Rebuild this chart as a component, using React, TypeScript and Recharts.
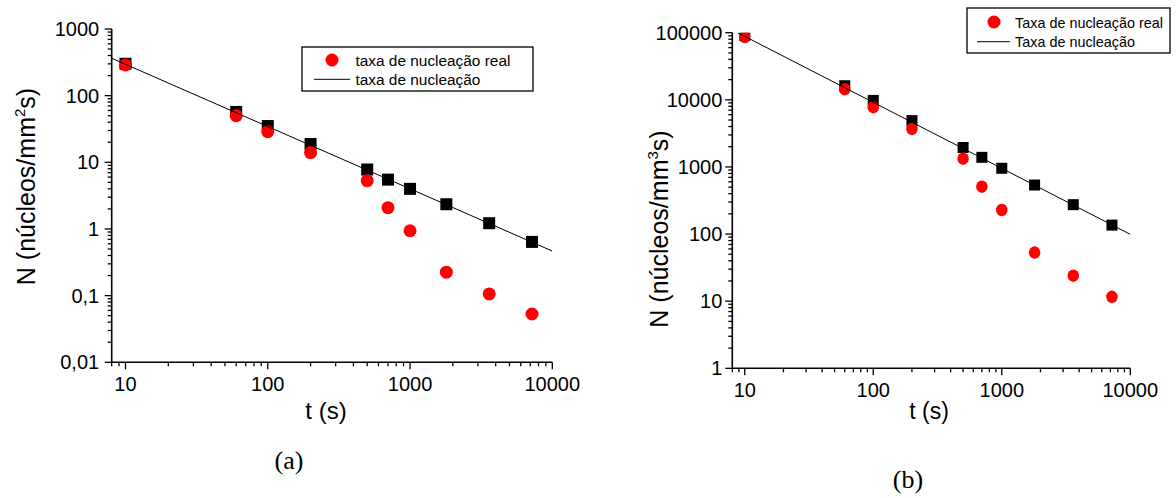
import { ScatterChart, Scatter, XAxis, YAxis } from 'recharts'

// tempos medidos (s)
const times = [10, 60, 100, 200, 500, 700, 1000, 1800, 3600, 7200]

// (a) núcleos/mm²s
const rateA = [301, 57, 35, 18.8, 7.8, 5.5, 4.0, 2.35, 1.22, 0.64]
const realA = [289, 50, 28.8, 14, 5.3, 2.09, 0.94, 0.225, 0.106, 0.053]
const fitTimesA = [8, 10000]
const fitA = [364, 0.466]

// (b) núcleos/mm³s
const rateB = [91000, 16200, 9800, 4900, 1950, 1390, 955, 538, 274, 136]
const realB = [86000, 14400, 7770, 3690, 1330, 508, 228, 53, 24, 11.6]
const fitTimesB = [8.8, 10000]
const fitB = [100000, 99]

const xMajor = [10, 100, 1000, 10000]
const xLabels = ['10', '100', '1000', '10000']
const xMinor = [8, 9, 20, 30, 40, 50, 60, 70, 80, 90, 200, 300, 400, 500, 600, 700, 800, 900,
    2000, 3000, 4000, 5000, 6000, 7000, 8000, 9000]

const yMajorA = [0.01, 0.1, 1, 10, 100, 1000]
const yLabelsA = ['0,01', '0,1', '1', '10', '100', '1000']
const yMinorA = [0.02, 0.03, 0.04, 0.05, 0.06, 0.07, 0.08, 0.09, 0.2, 0.3, 0.4, 0.5, 0.6, 0.7, 0.8, 0.9,
    2, 3, 4, 5, 6, 7, 8, 9, 20, 30, 40, 50, 60, 70, 80, 90, 200, 300, 400, 500, 600, 700, 800, 900]

const yMajorB = [1, 10, 100, 1000, 10000, 100000]
const yLabelsB = ['1', '10', '100', '1000', '10000', '100000']
const yMinorB = [2, 3, 4, 5, 6, 7, 8, 9, 20, 30, 40, 50, 60, 70, 80, 90, 200, 300, 400, 500, 600, 700, 800, 900,
    2000, 3000, 4000, 5000, 6000, 7000, 8000, 9000, 20000, 30000, 40000, 50000, 60000, 70000, 80000, 90000]

const legendA = ['taxa de nucleação real', 'taxa de nucleação']
const legendB = ['Taxa de nucleação real', 'Taxa de nucleação']

const FONT = '"Liberation Sans", Arial, sans-serif'
const SERIF = '"Liberation Serif", "Times New Roman", serif'
const RED = '#ff0000'

const toPoints = (ts: number[], ns: number[]) => ts.map((t, i) => ({ t, n: ns[i] }))

function xTick(p: any, majors: number[], labels: string[]) {
    const i = majors.indexOf(p.payload.value)
    const len = i >= 0 ? 7 : 4
    return (
        <g>
            <line x1={p.x} x2={p.x} y1={p.y} y2={p.y + len} stroke="#000" strokeWidth={1.3} />
            {i >= 0 && (
                <text x={p.x} y={p.y + 14} dy="0.71em" textAnchor="middle" fontSize={20} fontFamily={FONT} fill="#000">
                    {labels[i]}
                </text>
            )}
        </g>
    )
}

function yTick(p: any, majors: number[], labels: string[], gap: number) {
    const i = majors.indexOf(p.payload.value)
    const len = i >= 0 ? 7 : 4
    return (
        <g>
            <line x1={p.x - len} x2={p.x} y1={p.y} y2={p.y} stroke="#000" strokeWidth={1.3} />
            {i >= 0 && (
                <text x={p.x - gap} y={p.y} dy="0.355em" textAnchor="end" fontSize={20} fontFamily={FONT} fill="#000">
                    {labels[i]}
                </text>
            )}
        </g>
    )
}

const square = (s: number) => (p: any) => <rect x={p.cx - s / 2} y={p.cy - s / 2} width={s} height={s} fill="#000" />
const dot = (w: number, h: number) => (p: any) => <ellipse cx={p.cx} cy={p.cy} rx={w / 2} ry={h / 2} fill={RED} />
const noShape = () => <g />

interface PanelProps {
    width: number
    yWidth: number
    top: number
    right: number
    xHeight: number
    yDomain: [number, number]
    yMajor: number[]
    yMinor: number[]
    yLabels: string[]
    labelGap: number
    rate: number[]
    real: number[]
    fitT: number[]
    fit: number[]
    sq: number
    cw: number
    ch: number
}

function Panel(pp: PanelProps) {
    return (
        <ScatterChart width={pp.width} height={498} margin={{ top: pp.top, right: pp.right, bottom: 0, left: 0 }}>
            <XAxis
                type="number" dataKey="t" scale="log" domain={[8, 10000]} allowDataOverflow
                ticks={[...xMinor, ...xMajor]} interval={0} height={pp.xHeight}
                tickSize={0} tickMargin={0} tickLine={false}
                axisLine={{ stroke: '#000', strokeWidth: 1.6 }}
                tick={(p: any) => xTick(p, xMajor, xLabels)}
            />
            <YAxis
                type="number" dataKey="n" scale="log" domain={pp.yDomain} allowDataOverflow
                ticks={[...pp.yMinor, ...pp.yMajor]} interval={0} width={pp.yWidth}
                tickSize={0} tickMargin={0} tickLine={false}
                axisLine={{ stroke: '#000', strokeWidth: 1.6 }}
                tick={(p: any) => yTick(p, pp.yMajor, pp.yLabels, pp.labelGap)}
            />
            <Scatter data={toPoints(times, pp.rate)} shape={square(pp.sq)} isAnimationActive={false} />
            <Scatter data={toPoints(times, pp.real)} shape={dot(pp.cw, pp.ch)} isAnimationActive={false} />
            <Scatter
                data={toPoints(pp.fitT, pp.fit)} shape={noShape}
                line={{ stroke: '#000', strokeWidth: 1 }} isAnimationActive={false}
            />
        </ScatterChart>
    )
}

function LegendBox({ x, y, w, h, names, fontSize, dotX, textX, lineX1, lineX2, rows, base }: any) {
    return (
        <g fontFamily={FONT} fontSize={fontSize}>
            <rect x={x} y={y} width={w} height={h} fill="#fff" stroke="#000" strokeWidth={1.3} />
            <ellipse cx={dotX} cy={rows[0]} rx={6.5} ry={6.5} fill={RED} />
            <line x1={lineX1} x2={lineX2} y1={rows[1]} y2={rows[1]} stroke="#000" strokeWidth={1} />
            <text x={textX} y={base[0]}>{names[0]}</text>
            <text x={textX} y={base[1]}>{names[1]}</text>
        </g>
    )
}

export default function App() {
    return (
        <div style={{ position: 'absolute', left: 0, top: 0, width: 1176, height: 498, background: '#fff', overflow: 'hidden' }}>
            <div style={{ position: 'absolute', left: 0, top: 0 }}>
                <Panel
                    width={600} yWidth={111.7} top={29} right={47.7} xHeight={135.7}
                    yDomain={[0.01, 1000]} yMajor={yMajorA} yMinor={yMinorA} yLabels={yLabelsA} labelGap={12.5}
                    rate={rateA} real={realA} fitT={fitTimesA} fit={fitA} sq={12} cw={13} ch={13}
                />
            </div>
            <div style={{ position: 'absolute', left: 600, top: 0 }}>
                <Panel
                    width={576} yWidth={132.3} top={32.7} right={45.7} xHeight={129.7}
                    yDomain={[1, 100000]} yMajor={yMajorB} yMinor={yMinorB} yLabels={yLabelsB} labelGap={10}
                    rate={rateB} real={realB} fitT={fitTimesB} fit={fitB} sq={11} cw={11.5} ch={12.5}
                />
            </div>
            <svg width={1176} height={498} style={{ position: 'absolute', left: 0, top: 0, pointerEvents: 'none' }}>
                <LegendBox
                    x={302} y={47} w={231} h={44} names={legendA} fontSize={15.4}
                    dotX={332} textX={355.5} lineX1={314} lineX2={350} rows={[60, 79.3]} base={[66, 85]}
                />
                <LegendBox
                    x={967} y={8} w={203} h={45} names={legendB} fontSize={14.4}
                    dotX={994} textX={1015} lineX1={977} lineX2={1010} rows={[22, 41.7]} base={[27.5, 46.8]}
                />
                <g fontFamily={FONT} fill="#000">
                    <text x={326} y={419} textAnchor="middle" fontSize={24}>t (s)</text>
                    <text x={929} y={419} textAnchor="middle" fontSize={23}>t (s)</text>
                    <text transform="translate(35,186.5) rotate(-90)" textAnchor="middle" fontSize={25}>
                        N (núcleos/mm<tspan dy={-10} fontSize={15}>2</tspan><tspan dy={10}>s)</tspan>
                    </text>
                    <text transform="translate(668,229) rotate(-90)" textAnchor="middle" fontSize={25}>
                        N (núcleos/mm<tspan dy={-10} fontSize={15}>3</tspan><tspan dy={10}>s)</tspan>
                    </text>
                </g>
                <g fontFamily={SERIF} fill="#000" fontSize={26}>
                    <text x={289} y={469} textAnchor="middle">(a)</text>
                    <text x={908} y={488} textAnchor="middle">(b)</text>
                </g>
            </svg>
        </div>
    )
}
